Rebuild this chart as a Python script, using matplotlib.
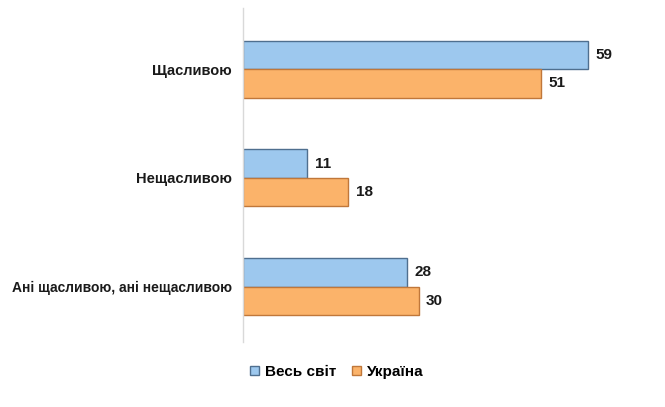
import matplotlib
matplotlib.use('Agg')
import matplotlib.pyplot as plt
import numpy as np

plt.rcParams['font.family'] = ['Liberation Sans', 'DejaVu Sans']

categories = ['Щасливою', 'Нещасливою', 'Ані щасливою, ані нещасливою']
world = [59, 11, 28]
ukraine = [51, 18, 30]
series_names = ['Весь світ', 'Україна']

blue_fill = '#9dc8ee'
blue_edge = '#4f6f8f'
orange_fill = '#fbb36a'
orange_edge = '#c0773a'

fig = plt.figure(figsize=(6.65, 4.07), dpi=100)
ax = fig.add_axes([243/665, (407-342)/407, 409.5/665, 334/407])

y = np.arange(len(categories))
h = 0.262
b1 = ax.barh(y - h/2, world, height=h, color=blue_fill, edgecolor=blue_edge, linewidth=1.0, label=series_names[0])
b2 = ax.barh(y + h/2, ukraine, height=h, color=orange_fill, edgecolor=orange_edge, linewidth=1.0, label=series_names[1])

for bars in (b1, b2):
    for rect in bars:
        ax.text(rect.get_width() + 1.3, rect.get_y() + rect.get_height()/2, '%d' % rect.get_width(),
                va='center', ha='left', fontsize=11, fontweight='bold', color='#1a1a1a')

ax.set_xlim(0, 70)
ax.set_ylim(2.51, -0.561)
ax.set_yticks(y)
ax.set_yticklabels(categories, fontsize=10.5, fontweight='bold', color='#1a1a1a')
# the long label is a bit tighter in the original
ax.get_yticklabels()[2].set_fontsize(10)
ax.tick_params(axis='y', length=0, pad=8)
ax.set_xticks([])
for s in ['top', 'right', 'bottom']:
    ax.spines[s].set_visible(False)
ax.spines['left'].set_color('#d9d9d9')
ax.spines['left'].set_linewidth(1.0)

leg = fig.legend(handles=[b1, b2], labels=series_names, loc='center', bbox_to_anchor=(337/665, 1 - 372/407),
                 ncol=2, frameon=False, handlelength=0.6, handleheight=0.6,
                 handletextpad=0.4, columnspacing=1.0, prop={'weight': 'bold', 'size': 11})

fig.savefig('out.png', dpi=100)
